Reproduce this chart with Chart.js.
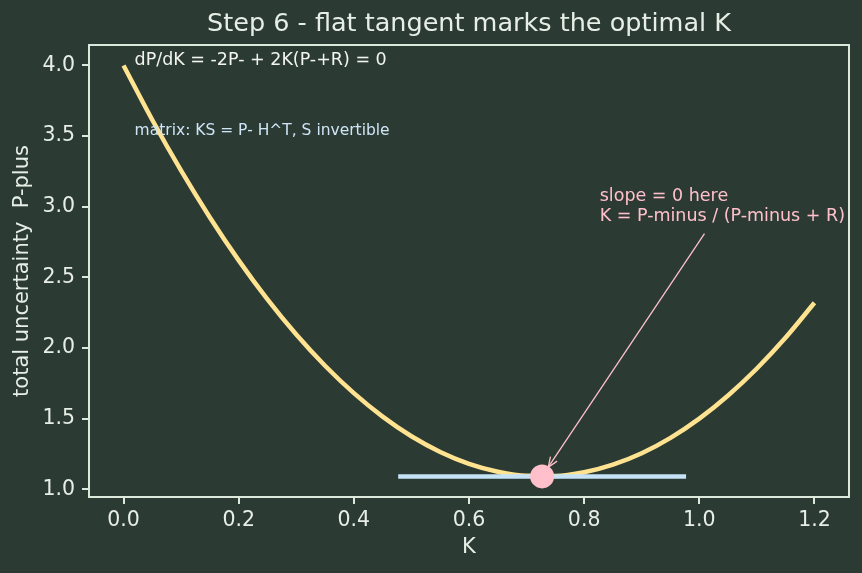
<!DOCTYPE html>
<html>
<head>
<meta charset="utf-8">
<script src="https://cdn.jsdelivr.net/npm/chart.js@4"></script>
<style>
  html, body { margin: 0; padding: 0; background: #2b3a33; }
  #wrap { width: 862px; height: 573px; }
</style>
</head>
<body>
<div id="wrap"><canvas id="c" width="862" height="573"></canvas></div>
<script>
// ---- data ----
const gainK = [0, 0.05, 0.1, 0.15, 0.2, 0.25, 0.3, 0.35, 0.4, 0.45, 0.5, 0.55, 0.6,
               0.65, 0.7, 0.75, 0.8, 0.85, 0.9, 0.95, 1.0, 1.05, 1.1, 1.15, 1.2];
const pPlus = [4.0, 3.614, 3.255, 2.924, 2.62, 2.344, 2.095, 1.874, 1.68, 1.514, 1.375, 1.264, 1.18,
               1.124, 1.095, 1.094, 1.12, 1.174, 1.255, 1.364, 1.5, 1.664, 1.855, 2.074, 2.32];
const tangentK = [0.477, 0.977];
const tangentP = [1.091, 1.091];
const optimalK = [0.727];
const optimalP = [1.091];
const xTicks = [0.0, 0.2, 0.4, 0.6, 0.8, 1.0, 1.2];
const yTicks = [1.0, 1.5, 2.0, 2.5, 3.0, 3.5, 4.0];
const titleText = "Step 6 - flat tangent marks the optimal K";
const xLabel = "K";
const yLabel = "total uncertainty  P-plus";
const noteTop = "dP/dK = -2P- + 2K(P-+R) = 0";
const noteMatrix = "matrix: KS = P- H^T, S invertible";
const noteSlope = ["slope = 0 here", "K = P-minus / (P-minus + R)"];
const arrowFrom = [1.009, 2.81];

const BG = '#2b3a33';
const FG = '#e6eee6';
const SPINE = '#dde8dd';
const FONT = "'DejaVu Sans', sans-serif";

const toXY = (xs, ys) => xs.map((x, i) => ({x: x, y: ys[i]}));

const decor = {
  id: 'decor',
  beforeDraw(chart) {
    const ctx = chart.ctx;
    ctx.save();
    ctx.fillStyle = BG;
    ctx.fillRect(0, 0, chart.width, chart.height);
    ctx.restore();
  },
  afterDraw(chart) {
    const ctx = chart.ctx;
    const a = chart.chartArea;
    const xs = chart.scales.x, ys = chart.scales.y;
    ctx.save();
    // box
    ctx.strokeStyle = SPINE;
    ctx.lineWidth = 2;
    ctx.strokeRect(a.left, a.top, a.right - a.left, a.bottom - a.top);
    // title
    ctx.fillStyle = FG;
    ctx.textAlign = 'center';
    ctx.textBaseline = 'middle';
    ctx.font = '25.5px ' + FONT;
    ctx.fillText(titleText, (a.left + a.right) / 2, 24);
    // x label
    ctx.font = '21px ' + FONT;
    ctx.fillText(xLabel, (a.left + a.right) / 2, 548);
    // y label
    ctx.save();
    ctx.translate(23, (a.top + a.bottom) / 2);
    ctx.rotate(-Math.PI / 2);
    ctx.fillText(yLabel, 0, 0);
    ctx.restore();
    // notes
    const w = a.right - a.left;
    ctx.textAlign = 'left';
    ctx.font = '17.5px ' + FONT;
    ctx.fillStyle = '#f2f5ee';
    ctx.fillText(noteTop, a.left + 0.06 * w, 60);
    ctx.font = '15.5px ' + FONT;
    ctx.fillStyle = '#cfe5f5';
    ctx.fillText(noteMatrix, a.left + 0.06 * w, 131);
    // slope annotation
    ctx.font = '17.5px ' + FONT;
    ctx.fillStyle = '#ffc0cb';
    const tx = xs.getPixelForValue(0.827);
    ctx.fillText(noteSlope[0], tx, 196);
    ctx.fillText(noteSlope[1], tx, 216);
    // arrow
    const sx = xs.getPixelForValue(arrowFrom[0]), sy = ys.getPixelForValue(arrowFrom[1]);
    const px = xs.getPixelForValue(optimalK[0]), py = ys.getPixelForValue(optimalP[0]);
    const dx = px - sx, dy = py - sy, L = Math.hypot(dx, dy);
    const ux = dx / L, uy = dy / L;
    const ex = px - ux * 11, ey = py - uy * 11;
    ctx.strokeStyle = '#ffc0cb';
    ctx.fillStyle = '#ffc0cb';
    ctx.lineWidth = 1.3;
    ctx.beginPath();
    ctx.moveTo(sx, sy);
    ctx.lineTo(ex, ey);
    ctx.stroke();
    const hl = 10, hw = 4;
    ctx.beginPath();
    ctx.moveTo(ex - ux * hl - uy * hw, ey - uy * hl + ux * hw);
    ctx.lineTo(ex, ey);
    ctx.lineTo(ex - ux * hl + uy * hw, ey - uy * hl - ux * hw);
    ctx.stroke();
    ctx.restore();
  }
};

new Chart(document.getElementById('c'), {
  type: 'line',
  data: {
    datasets: [
      {
        label: 'optimal',
        data: toXY(optimalK, optimalP),
        showLine: false,
        pointRadius: 12,
        pointBackgroundColor: '#ffc0cb',
        pointBorderColor: '#ffc0cb',
        pointBorderWidth: 0,
        order: 0
      },
      {
        label: 'tangent',
        data: toXY(tangentK, tangentP),
        borderColor: '#c6e2f7',
        borderWidth: 4.5,
        pointRadius: 0,
        order: 1
      },
      {
        label: 'P-plus',
        data: toXY(gainK, pPlus),
        borderColor: '#ffe390',
        borderWidth: 4.5,
        pointRadius: 0,
        cubicInterpolationMode: 'monotone',
        order: 2
      }
    ]
  },
  options: {
    responsive: false,
    animation: false,
    events: [],
    layout: { padding: { left: 0, top: 45, right: 13, bottom: 0 } },
    plugins: { legend: { display: false }, tooltip: { enabled: false }, title: { display: false } },
    scales: {
      x: {
        type: 'linear',
        min: -0.06, max: 1.26,
        afterFit(s) { s.height = 76; },
        afterBuildTicks(s) { s.ticks = xTicks.map(v => ({value: v})); },
        grid: { drawOnChartArea: false, drawTicks: true, tickLength: 7, color: SPINE, lineWidth: 2 },
        border: { display: false },
        ticks: { color: FG, font: { family: FONT, size: 20.5 }, padding: 4, maxRotation: 0,
                 callback: v => v.toFixed(1) }
      },
      y: {
        type: 'linear',
        min: 0.945, max: 4.145,
        afterFit(s) { s.width = 89; },
        afterBuildTicks(s) { s.ticks = yTicks.map(v => ({value: v})); },
        grid: { drawOnChartArea: false, drawTicks: true, tickLength: 7, color: SPINE, lineWidth: 2 },
        border: { display: false },
        ticks: { color: FG, font: { family: FONT, size: 20.5 }, padding: 7,
                 callback: v => v.toFixed(1) }
      }
    }
  },
  plugins: [decor]
});
</script>
</body>
</html>
